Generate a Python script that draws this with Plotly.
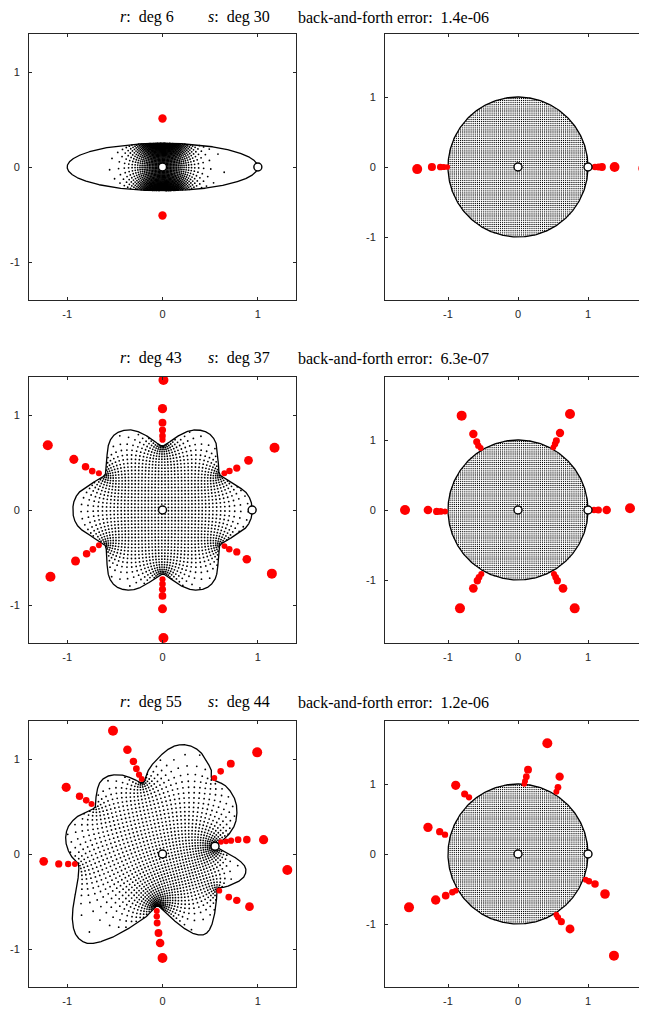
import numpy as np
import plotly.graph_objects as go

# ------------------------------------------------------------------ data
titles_r = ["deg 6", "deg 43", "deg 55"]
titles_s = ["deg 30", "deg 37", "deg 44"]
titles_err = ["1.4e-06", "6.3e-07", "1.2e-06"]

# row 1: ellipse (semi-axes) and marked boundary point
ellipse_axes = [1.0, 0.25]
mark1 = [1.0, 0.0]

# row 2: flower boundary control points (ccw, upper half; lower half mirrored)
shape2_upper_x = [0.94, 0.925, 0.87, 0.77, 0.68, 0.60, 0.585, 0.578, 0.555, 0.50, 0.42, 0.31,
                  0.20, 0.10, 0.0, -0.10, -0.20, -0.31, -0.42, -0.50, -0.555, -0.578, -0.585,
                  -0.60, -0.68, -0.77, -0.87, -0.925]
shape2_upper_y = [0.0, 0.10, 0.19, 0.26, 0.32, 0.375, 0.50, 0.62, 0.72, 0.795, 0.835, 0.84,
                  0.80, 0.735, 0.675, 0.735, 0.80, 0.84, 0.835, 0.795, 0.72, 0.62, 0.50,
                  0.375, 0.32, 0.26, 0.19, 0.10]
shape2_left_tip = [-0.94, 0.0]
mark2 = [0.94, 0.0]

# row 3: irregular boundary control points (ccw, starting at marked point)
shape3_x = [0.55, 0.60, 0.705, 0.768, 0.778, 0.735, 0.645, 0.52, 0.515, 0.47, 0.40, 0.30,
            0.185, 0.074, -0.032, -0.137, -0.205, -0.295, -0.418, -0.558, -0.655, -0.695, -0.705,
            -0.804, -0.915, -0.996, -1.014, -0.965, -0.881, -0.895, -0.93, -0.945, -0.905, -0.786,
            -0.593, -0.382, -0.172, -0.06, 0.039, 0.179, 0.319, 0.43, 0.50, 0.54, 0.565, 0.575,
            0.67, 0.795, 0.865, 0.865, 0.775, 0.635]
shape3_y = [0.08, 0.113, 0.218, 0.34, 0.498, 0.625, 0.73, 0.785, 0.87, 0.965, 1.07, 1.135,
            1.15, 1.112, 1.024, 0.902, 0.755, 0.785, 0.83, 0.825, 0.755, 0.62, 0.495,
            0.445, 0.376, 0.27, 0.13, -0.011, -0.112, -0.326, -0.502, -0.695, -0.855, -0.94,
            -0.905, -0.8, -0.66, -0.55, -0.625, -0.747, -0.835, -0.85, -0.785, -0.66, -0.502, -0.37,
            -0.344, -0.291, -0.221, -0.133, -0.046, 0.025]
mark3 = [0.551, 0.081]

# poles of s (shape plane, left column)
poles_left_x = [
    [0.0, 0.0],
    [0.01, 0.0, 0.0, 0.0, 0.0, 0.0, 0.01, 0.0, 0.0, 0.0, 0.0, 0.0,
     -1.203, -0.93, -0.807, -0.737, -0.667, 1.175, 0.902, 0.779, 0.702, 0.649,
     -1.175, -0.912, -0.796, -0.73, -0.667, 1.147, 0.884, 0.779, 0.70, 0.65],
    [-0.519, -0.368, -0.305, -0.274, -0.246, -0.218, -1.01, -0.87, -0.80, -0.744,
     0.993, 0.716, 0.61, 0.544, -1.246, -1.088, -0.989, -0.919,
     1.06, 0.884, 0.793, 0.719, 0.667, 0.614, 1.309, 0.596, 0.695, 0.779, 0.912,
     0.0, -0.025, -0.042, -0.056, -0.06, -0.06],
]
poles_left_y = [
    [0.51, -0.51],
    [1.368, 1.067, 0.919, 0.842, 0.78, 0.74, -1.347, -1.04, -0.905, -0.835, -0.78, -0.73,
     0.681, 0.533, 0.456, 0.41, 0.386, 0.656, 0.523, 0.442, 0.41, 0.386,
     -0.702, -0.537, -0.46, -0.414, -0.372, -0.67, -0.519, -0.442, -0.414, -0.38],
    [1.298, 1.098, 0.975, 0.898, 0.835, 0.79, 0.702, 0.607, 0.565, 0.526,
     1.07, 0.951, 0.87, 0.80, -0.077, -0.105, -0.105, -0.105,
     0.151, 0.151, 0.151, 0.14, 0.133, 0.126, -0.168, -0.386, -0.453, -0.488, -0.554,
     -1.095, -0.937, -0.832, -0.726, -0.656, -0.60],
]

# poles of r (disk plane, right column)
poles_right_x = [
    [-1.44, -1.23, -1.11, -1.06, -1.01, 1.10, 1.15, 1.20, 1.38, 1.79],
    [-1.614, -1.286, -1.162, -1.105, -1.043, 1.60, 1.267, 1.148, 1.086,
     -0.805, -0.638, -0.59, -0.567, -0.533, 0.743, 0.60, 0.548, 0.529, 0.505,
     -0.829, -0.638, -0.581, -0.557, -0.524, 0.81, 0.643, 0.562, 0.538, 0.514],
    [0.419, 0.143, 0.119, 0.10, 0.09, 0.595, 0.571, 0.548, -0.89, -0.762, -0.70,
     -1.286, -1.119, -1.043, -1.557, -1.176, -1.033, -0.938, -0.89,
     0.967, 1.014, 1.10, 1.243, 1.371, 0.743, 0.619, 0.571, 0.548],
]
poles_right_y = [
    [-0.03, 0.0, 0.0, 0.0, 0.0, 0.0, 0.0, 0.0, 0.0, -0.02],
    [0.0, 0.0, -0.02, -0.02, -0.02, 0.024, 0.0, 0.0, 0.0,
     1.348, 1.086, 0.976, 0.919, 0.886, 1.371, 1.10, 0.99, 0.943, 0.895,
     -1.405, -1.119, -1.01, -0.962, -0.914, -1.405, -1.119, -1.01, -0.962, -0.914],
    [1.581, 1.205, 1.105, 1.038, 1.0, 1.105, 0.952, 0.89, 0.981, 0.857, 0.81,
     0.381, 0.319, 0.276, -0.762, -0.657, -0.595, -0.548, -0.524,
     -0.367, -0.39, -0.429, -0.571, -1.452, -1.071, -0.967, -0.905, -0.867],
]

grid_step_left = 0.045  # square grid in the disk, mapped by r
grid_step_right = 0.03  # square grid shown in the disk

# ------------------------------------------------------------------ geometry helpers
def closed_catmull_rom(px, py, per_seg=80):
    P = np.asarray(px) + 1j * np.asarray(py)
    n = len(P)
    t = np.linspace(0, 1, per_seg, endpoint=False)
    out = []
    for i in range(n):
        p0, p1, p2, p3 = P[(i - 1) % n], P[i], P[(i + 1) % n], P[(i + 2) % n]
        out.append(0.5 * (2 * p1 + (-p0 + p2) * t + (2 * p0 - 5 * p1 + 4 * p2 - p3) * t ** 2
                          + (-p0 + 3 * p1 - 3 * p2 + p3) * t ** 3))
    return np.concatenate(out)


def resample(b, M=3000):
    bb = np.append(b, b[0])
    s = np.concatenate([[0], np.cumsum(np.abs(np.diff(bb)))])
    su = np.linspace(0, s[-1], M, endpoint=False)
    return np.interp(su, s, bb.real) + 1j * np.interp(su, s, bb.imag)


def disk_map(b, w0, wmark, nchg=320, N=4096):
    """Taylor coefficients of the conformal map disk -> region (f(0)=w0, f(1)=wmark)."""
    area = 0.5 * np.sum(b.real * np.roll(b.imag, -1) - np.roll(b.real, -1) * b.imag)
    if area < 0:
        b = b[::-1]
    M = len(b)
    idx = np.linspace(0, M, nchg, endpoint=False).astype(int)
    bc = b[idx]
    tang = np.roll(bc, -1) - np.roll(bc, 1)
    h = np.abs(tang) / 2
    nrm = -1j * tang / np.abs(tang)
    zeta = bc + 1.5 * h * nrm
    u0 = zeta - w0
    A = np.log(np.abs(1 - (b[:, None] - w0) / u0[None, :]))
    A = np.hstack([A, np.ones((M, 1))])
    rhs = -np.log(np.abs(b - w0))
    sol = np.linalg.lstsq(A, rhs, rcond=None)[0]
    q, c = sol[:-1], sol[-1]
    gb = (b - w0) * np.exp(np.log(1 - (b[:, None] - w0) / u0[None, :]) @ q + c)
    ph = np.unwrap(np.angle(gb))
    im = np.argmin(np.abs(b - wmark))
    ph = ph - ph[im]
    phu = 2 * np.pi * np.arange(N) / N
    xr = np.interp(phu, ph, b.real, period=2 * np.pi)
    yr = np.interp(phu, ph, b.imag, period=2 * np.pi)
    C = np.fft.fft(xr + 1j * yr) / N
    a = C[: N // 2]
    big = np.nonzero(np.abs(a) > 1e-9)[0]
    return a[: big[-1] + 1]


def polyval_c(a, z):
    out = np.zeros_like(z, dtype=complex)
    for ak in a[::-1]:
        out = out * z + ak
    return out


def disk_grid(step, rmax=1.0):
    v = np.arange(-1.0, 1.0 + 1e-9, step)
    X, Y = np.meshgrid(v, v)
    Z = (X + 1j * Y).ravel()
    return Z[np.abs(Z) < rmax - 1e-9]


# boundaries
tt = np.linspace(0, 2 * np.pi, 3000, endpoint=False)
bnd1 = ellipse_axes[0] * np.cos(tt) + 1j * ellipse_axes[1] * np.sin(tt)
s2x = shape2_upper_x + [shape2_left_tip[0]] + shape2_upper_x[::-1][:-1]
s2y = shape2_upper_y + [shape2_left_tip[1]] + [-y for y in shape2_upper_y[::-1][:-1]]
bnd2 = resample(closed_catmull_rom(s2x, s2y))
bnd3 = resample(closed_catmull_rom(shape3_x, shape3_y))
boundaries = [bnd1, bnd2, bnd3]
marks = [mark1, mark2, mark3]

zL = disk_grid(grid_step_left, 0.995)
zR = disk_grid(grid_step_right, 1.0)

left_dots = []
for b, m in zip(boundaries, marks):
    a = disk_map(b, 0.0 + 0.0j, m[0] + 1j * m[1])
    left_dots.append(polyval_c(a, zL))

# ------------------------------------------------------------------ figure
OFF = 8                      # page margin of the browser body
W, H = 647 - OFF, 1010 - OFF
def fx(px):
    return (px - OFF) / W
def fy(py):
    return 1 - (py - OFF) / H

row_centers = [167, 510, 854]
title_centers = [17, 358, 702]
half = 133
tick_font = dict(family="Liberation Sans, Arial, sans-serif", size=11, color="#262626")
axis_common = dict(showgrid=False, zeroline=False, showline=True, linecolor="#262626",
                   linewidth=1, ticks="inside", ticklen=3, tickwidth=1, tickcolor="#262626",
                   tickvals=[-1, 0, 1], ticktext=["-1", "0", "1"], tickfont=tick_font,
                   fixedrange=True)

fig = go.Figure()
layout_axes = {}

def pole_sizes(px, py, ref):
    P = np.asarray(px) + 1j * np.asarray(py)
    if ref is None:
        d = np.abs(P) - 1
    else:
        d = np.min(np.abs(P[:, None] - ref[None, ::5]), axis=1)
    return 5.5 + 4.5 * np.clip(d / 0.4, 0, 1)

unit = np.exp(1j * np.linspace(0, 2 * np.pi, 400))
dot_style = dict(size=1.8, color="black", opacity=1, line=dict(width=0))

for r in range(3):
    iL, iR = 2 * r + 1, 2 * r + 2
    xl, yl = ("x" if iL == 1 else f"x{iL}"), ("y" if iL == 1 else f"y{iL}")
    xr_, yr_ = f"x{iR}", f"y{iR}"
    c = row_centers[r]
    ydom = [fy(c + half), fy(c - half)]

    # ---- left panel
    w = left_dots[r]
    fig.add_trace(go.Scatter(x=w.real, y=w.imag, mode="markers", xaxis=xl, yaxis=yl,
                             marker=dot_style, hoverinfo="skip"))
    b = np.append(boundaries[r], boundaries[r][0])
    fig.add_trace(go.Scatter(x=b.real, y=b.imag, mode="lines", xaxis=xl, yaxis=yl,
                             line=dict(color="black", width=1.3), hoverinfo="skip"))
    fig.add_trace(go.Scatter(x=poles_left_x[r], y=poles_left_y[r], mode="markers",
                             xaxis=xl, yaxis=yl, opacity=1,
                             marker=dict(size=pole_sizes(poles_left_x[r], poles_left_y[r], boundaries[r]),
                                         color="#ff0000", opacity=1, line=dict(width=0))))
    fig.add_trace(go.Scatter(x=[0, marks[r][0]], y=[0, marks[r][1]], mode="markers",
                             xaxis=xl, yaxis=yl,
                             marker=dict(size=8, color="white", opacity=1,
                                         line=dict(color="black", width=1.4))))

    # ---- right panel
    fig.add_trace(go.Scatter(x=zR.real, y=zR.imag, mode="markers", xaxis=xr_, yaxis=yr_,
                             marker=dict(dot_style, size=1.3), hoverinfo="skip"))
    fig.add_trace(go.Scatter(x=unit.real, y=unit.imag, mode="lines", xaxis=xr_, yaxis=yr_,
                             line=dict(color="black", width=1.3), hoverinfo="skip"))
    fig.add_trace(go.Scatter(x=poles_right_x[r], y=poles_right_y[r], mode="markers",
                             xaxis=xr_, yaxis=yr_, opacity=1,
                             marker=dict(size=pole_sizes(poles_right_x[r], poles_right_y[r], None),
                                         color="#ff0000", opacity=1, line=dict(width=0))))
    fig.add_trace(go.Scatter(x=[0, 1], y=[0, 0], mode="markers", xaxis=xr_, yaxis=yr_,
                             marker=dict(size=8, color="white", opacity=1,
                                         line=dict(color="black", width=1.4))))

    kxl = "xaxis" if iL == 1 else f"xaxis{iL}"
    kyl = "yaxis" if iL == 1 else f"yaxis{iL}"
    layout_axes[kxl] = dict(axis_common, domain=[fx(29), fx(296)], range=[-1.4, 1.4],
                            anchor=yl, mirror="ticks", ticklabelstandoff=4)
    layout_axes[kyl] = dict(axis_common, domain=ydom, range=[-1.4, 1.4],
                            anchor=xl, mirror="ticks", ticklabelstandoff=6)
    layout_axes[f"xaxis{iR}"] = dict(axis_common, domain=[fx(385), 1.0],
                                     range=[-1.9, (647 - 518) / 70.0],
                                     anchor=yr_, mirror="ticks", ticklabelstandoff=4)
    layout_axes[f"yaxis{iR}"] = dict(axis_common, domain=ydom, range=[-1.9, 1.9],
                                     anchor=xr_, mirror=False, ticklabelstandoff=6)

annotations = []
title_font = dict(family="Liberation Serif, Times New Roman, serif", size=16, color="black")
for r in range(3):
    ty = fy(title_centers[r])
    for xpx, txt in [(118, f"<i>r</i>:  {titles_r[r]}"),
                     (206, f"<i>s</i>:  {titles_s[r]}"),
                     (296, f"back-and-forth error:  {titles_err[r]}")]:
        annotations.append(dict(x=fx(xpx), y=ty, xref="paper", yref="paper", text=txt,
                                showarrow=False, xanchor="left", yanchor="middle",
                                font=title_font))

fig.update_layout(width=W, height=H, margin=dict(l=0, r=0, t=0, b=0),
                  paper_bgcolor="white", plot_bgcolor="white", showlegend=False,
                  annotations=annotations, **layout_axes)

fig.write_html("out.html")
